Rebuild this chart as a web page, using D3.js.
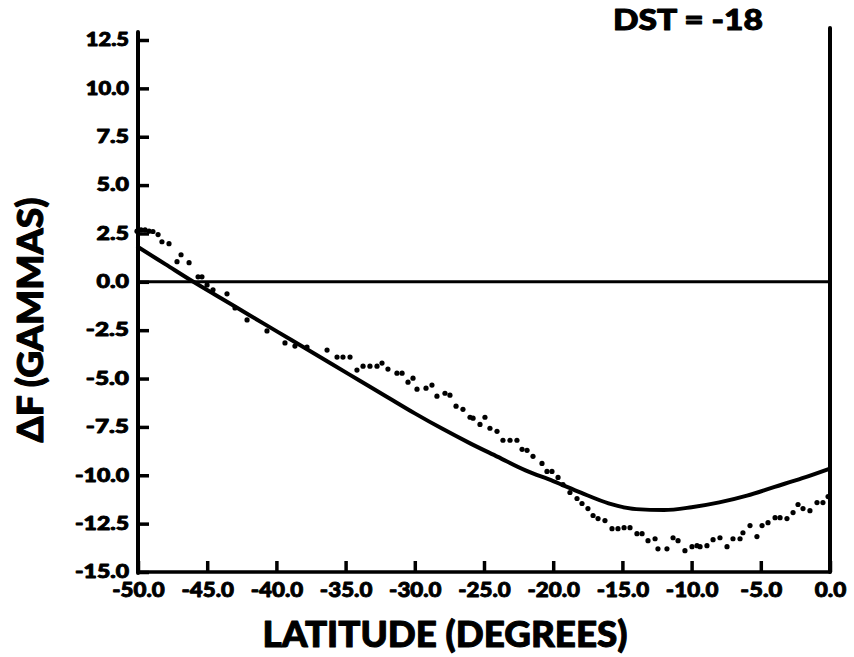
<!DOCTYPE html>
<html><head><meta charset="utf-8">
<script src="https://cdn.jsdelivr.net/npm/d3@7"></script>
<style>
html,body{margin:0;padding:0;background:#fff;}
svg{display:block;}
text{font-family:Lato,"DejaVu Sans",sans-serif;font-weight:900;fill:#000;stroke:#000;stroke-linejoin:round;}
</style></head>
<body>
<svg id="c" width="854" height="657"></svg>
<script>
// ---- data ----
const xTicks = [-50, -45, -40, -35, -30, -25, -20, -15, -10, -5, 0];
const xTickLabels = ["-50.0","-45.0","-40.0","-35.0","-30.0","-25.0","-20.0","-15.0","-10.0","-5.0","0.0"];
const yTicks = [12.5, 10, 7.5, 5, 2.5, 0, -2.5, -5, -7.5, -10, -12.5, -15];
const yTickLabels = ["12.5","10.0","7.5","5.0","2.5","0.0","-2.5","-5.0","-7.5","-10.0","-12.5","-15.0"];

// model curve (solid line)
const modelLat = [-50,-48,-46,-44,-42,-40,-38,-36,-34,-32,-30,-28,-26,-24,-22,-20,-18,-16,-14,-12,-10,-8,-6,-4,-2,0];
const modelDF  = [1.8,0.9,0.0,-0.85,-1.7,-2.55,-3.4,-4.25,-5.1,-5.95,-6.8,-7.6,-8.35,-9.05,-9.75,-10.3,-10.9,-11.45,-11.75,-11.8,-11.65,-11.4,-11.05,-10.6,-10.15,-9.65];

// observed points (dots)
const obsLat = [-50.07,-49.78,-49.49,-49.2,-48.92,-48.55,-48.27,-47.76,-46.89,-47.18,-46.31,-45.66,-45.38,-45.01,-44.58,-43.57,-42.99,-42.12,-40.68,-39.38,-38.66,-37.79,-36.34,-35.62,-35.19,-34.68,-34.18,-33.74,-33.24,-32.73,-32.37,-31.94,-31.29,-30.92,-30.49,-30.13,-29.84,-29.19,-28.76,-28.4,-27.82,-27.46,-27.02,-26.52,-26.01,-25.79,-25.29,-24.93,-24.57,-24.06,-23.63,-23.12,-22.62,-22.25,-21.89,-21.46,-20.81,-20.45,-20.09,-19.65,-19.29,-18.79,-18.28,-17.92,-17.49,-17.12,-16.76,-16.26,-15.75,-15.32,-14.88,-14.45,-13.95,-13.58,-13.15,-12.64,-12.43,-11.78,-11.34,-10.98,-10.48,-9.97,-9.61,-9.39,-8.89,-8.45,-7.95,-7.44,-7.01,-6.5,-6.29,-5.78,-5.28,-4.91,-4.48,-3.97,-3.61,-3.11,-2.67,-2.31,-1.95,-1.45,-0.94,-0.51,-0.14];
const obsDF  = [2.62,2.68,2.68,2.62,2.6,2.44,2.07,1.97,1.4,1.04,0.99,0.26,0.26,-0.16,-0.41,-0.62,-1.35,-1.97,-2.54,-3.16,-3.32,-3.37,-3.53,-3.89,-3.89,-3.89,-4.56,-4.36,-4.36,-4.36,-4.2,-4.51,-4.72,-4.72,-5.19,-4.98,-5.55,-5.5,-5.34,-5.91,-5.76,-5.86,-6.43,-6.59,-7.0,-7.05,-7.37,-7.0,-7.57,-7.73,-8.19,-8.19,-8.19,-8.66,-8.71,-9.02,-9.39,-9.8,-9.8,-10.11,-10.48,-10.89,-11.2,-11.46,-11.72,-12.08,-12.24,-12.34,-12.76,-12.76,-12.71,-12.71,-13.02,-13.02,-13.38,-13.28,-13.8,-13.8,-13.23,-13.38,-13.9,-13.69,-13.64,-13.69,-13.64,-13.33,-13.23,-13.69,-13.28,-13.28,-12.97,-12.6,-13.17,-12.6,-12.45,-12.19,-12.19,-12.24,-11.93,-11.51,-11.72,-11.83,-11.41,-11.41,-11.1];

const titleText = "DST = -18";
const xTitle = "LATITUDE (DEGREES)";
const yTitle = "\u0394F (GAMMAS)";

// ---- drawing ----
const svg = d3.select("#c");
const x = d3.scaleLinear().domain([-50, 0]).range([138, 830]);
const y = d3.scaleLinear().domain([-15, 12.5]).range([572, 40]);

// x axis
const xAxis = d3.axisBottom(x).tickValues(xTicks)
  .tickFormat((d,i) => xTickLabels[i]).tickSizeInner(-11).tickSizeOuter(0).tickPadding(11);
const gx = svg.append("g").attr("transform", `translate(0,${y(-15)})`).call(xAxis);
gx.select(".domain").remove();
gx.selectAll(".tick line").attr("stroke", "#000").attr("stroke-width", 3.5);
gx.selectAll(".tick text").attr("font-size", 20).attr("dy", "0.72em").attr("stroke-width", 0.9)
  .attr("textLength", (d,i) => xTickLabels[i].length * 10.5).attr("lengthAdjust", "spacingAndGlyphs");

// y axis
const yAxis = d3.axisLeft(y).tickValues(yTicks)
  .tickFormat((d,i) => yTickLabels[i]).tickSizeInner(-11).tickSizeOuter(0).tickPadding(9);
const gy = svg.append("g").attr("transform", `translate(${x(-50)},0)`).call(yAxis);
gy.select(".domain").remove();
gy.selectAll(".tick line").attr("stroke", "#000").attr("stroke-width", 3.5);
gy.selectAll(".tick text").attr("font-size", 18).attr("stroke-width", 0.9)
  .attr("textLength", (d,i) => yTickLabels[i].length * 10.8).attr("lengthAdjust", "spacingAndGlyphs");

// frame lines
const frame = svg.append("g").attr("stroke", "#000").attr("stroke-linecap", "round");
frame.append("line").attr("x1", x(-50)).attr("x2", x(-50)).attr("y1", y(12.5) - 8).attr("y2", y(-15) + 1).attr("stroke-width", 4);
frame.append("line").attr("x1", x(-50)).attr("x2", x(0)).attr("y1", y(-15)).attr("y2", y(-15)).attr("stroke-width", 3.5);
frame.append("line").attr("x1", x(0)).attr("x2", x(0)).attr("y1", y(12.5) - 12).attr("y2", y(-15)).attr("stroke-width", 4);
frame.append("line").attr("x1", x(-50)).attr("x2", x(0)).attr("y1", y(0)).attr("y2", y(0)).attr("stroke-width", 3);

// model curve
const line = d3.line().x((d,i) => x(modelLat[i])).y((d,i) => y(modelDF[i])).curve(d3.curveMonotoneX);
svg.append("path").datum(modelLat).attr("d", line)
  .attr("fill", "none").attr("stroke", "#000").attr("stroke-width", 4).attr("stroke-linecap", "round");

// observed dots
svg.append("g").selectAll("circle").data(obsLat).join("circle")
  .attr("cx", (d) => x(d)).attr("cy", (d,i) => y(obsDF[i])).attr("r", 2.6).attr("fill", "#000");

// titles
svg.append("text").attr("x", 688).attr("y", 30).attr("text-anchor", "middle").attr("stroke-width", 1)
  .attr("font-size", 29).attr("textLength", 150).attr("lengthAdjust", "spacingAndGlyphs").text(titleText);
svg.append("text").attr("x", 445).attr("y", 647).attr("text-anchor", "middle").attr("stroke-width", 1)
  .attr("font-size", 36).attr("textLength", 365).attr("lengthAdjust", "spacingAndGlyphs").text(xTitle);
svg.append("text").attr("transform", "translate(43,320) rotate(-90)").attr("text-anchor", "middle").attr("stroke-width", 1)
  .attr("font-size", 36).attr("textLength", 245).attr("lengthAdjust", "spacingAndGlyphs").text(yTitle);
</script>
</body></html>
